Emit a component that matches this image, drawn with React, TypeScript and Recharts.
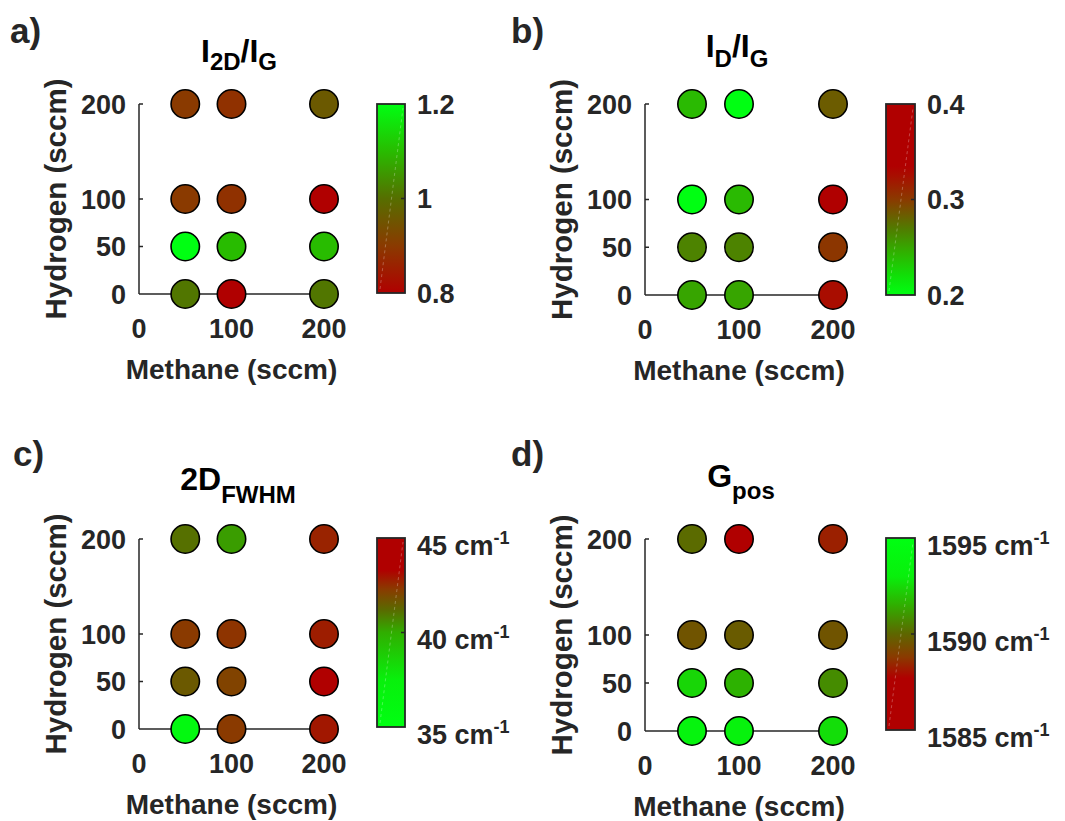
import React from "react";
import { ScatterChart, Scatter, XAxis, YAxis } from "recharts";

// grid of growth conditions
const methane = [50, 100, 200];
const hydrogen = [0, 50, 100, 200];
const methaneTicks = [0, 100, 200];
const hydrogenTicks = [0, 50, 100, 200];

// rows follow hydrogen (0, 50, 100, 200), columns follow methane (50, 100, 200)
const i2dIg = [
  [1.01, 0.8, 1.01],
  [1.2, 1.1, 1.1],
  [0.9, 0.885, 0.8],
  [0.9, 0.885, 0.96],
];
const idIg = [
  [0.25, 0.25, 0.326],
  [0.266, 0.266, 0.302],
  [0.2, 0.24, 0.36],
  [0.24, 0.2, 0.284],
];
const fwhm2d = [
  [36, 42.3, 42.9],
  [41.6, 42.1, 43.6],
  [42.3, 42.4, 42.8],
  [41.1, 40.3, 42.7],
];
const gPos = [
  [1593.6, 1593.2, 1592.6],
  [1592.4, 1591.6, 1590.8],
  [1589.5, 1589.7, 1589.5],
  [1590.1, 1587.5, 1588.3],
];

const i2dIgTicks = [0.8, 1, 1.2];
const idIgTicks = [0.2, 0.3, 0.4];
const fwhmTicks = [35, 40, 45];
const gPosTicks = [1585, 1590, 1595];

// colour maps: [value, colour]
const i2dIgMap: [number, string][] = [
  [0.8, "#b00000"], [0.9, "#8a3a00"], [1.0, "#566e00"], [1.1, "#28bc00"], [1.2, "#00ff12"],
];
const idIgMap: [number, string][] = [
  [0.2, "#00ff12"], [0.22, "#10e008"], [0.245, "#30b000"], [0.27, "#527a00"],
  [0.3, "#8a3a00"], [0.325, "#a80e00"], [0.335, "#b00000"], [0.4, "#b00000"],
];
const fwhmMap: [number, string][] = [
  [35, "#00ff12"], [37.5, "#08f00c"], [40, "#30ae00"], [41.2, "#5a6a00"],
  [42.3, "#8a3a00"], [43.3, "#b00000"], [45, "#b00000"],
];
const gPosMap: [number, string][] = [
  [1585, "#b00000"], [1587.7, "#b00000"], [1588.8, "#8a3a00"], [1590, "#5e6600"],
  [1591.5, "#30ae00"], [1593, "#08f00c"], [1595, "#00ff12"],
];

const FONT = "'Liberation Sans', Arial, sans-serif";
const INK = "#262626";

function hex(c: string) {
  return [1, 3, 5].map((i) => parseInt(c.slice(i, i + 2), 16));
}

function colorAt(map: [number, string][], v: number) {
  if (v <= map[0][0]) return map[0][1];
  for (let i = 1; i < map.length; i++) {
    if (v <= map[i][0]) {
      const t = (v - map[i - 1][0]) / (map[i][0] - map[i - 1][0]);
      const a = hex(map[i - 1][1]);
      const b = hex(map[i][1]);
      const m = a.map((x, k) => Math.round(x + (b[k] - x) * t));
      return `rgb(${m[0]},${m[1]},${m[2]})`;
    }
  }
  return map[map.length - 1][1];
}

function buildPoints(values: number[][], map: [number, string][]) {
  const pts: { x: number; y: number; v: number; color: string }[] = [];
  hydrogen.forEach((h, r) =>
    methane.forEach((m, c) => {
      const v = values[r][c];
      pts.push({ x: m, y: h, v, color: colorAt(map, v) });
    })
  );
  return pts;
}

const YTick = (p: any) => (
  <g>
    {p.payload.value !== 0 && (
      <line x1={p.x} x2={p.x + 4} y1={p.y} y2={p.y} stroke={INK} strokeWidth={1.5} />
    )}
    <text x={p.x - 13} y={p.y} dy="0.36em" textAnchor="end" fontFamily={FONT}
      fontWeight={700} fontSize={27} fill={INK}>
      {p.payload.value}
    </text>
  </g>
);

// x tick marks sit under the markers in the reference, so only labels are drawn
const XTick = (p: any) => (
  <text x={p.x} y={p.y + 34} dy="0.36em" textAnchor="middle" fontFamily={FONT}
    fontWeight={700} fontSize={27} fill={INK}>
    {p.payload.value}
  </text>
);

const Dot = (p: any) => (
  <circle cx={p.cx} cy={p.cy} r={14.2} fill={p.payload.color} stroke="#000" strokeWidth={1.6} />
);

type PanelProps = { left: number; top: number; plotW: number; plotH: number; values: number[][]; map: [number, string][] };

function Panel(props: PanelProps) {
  const W = 506;
  const H = 435;
  const data = buildPoints(props.values, props.map);
  return (
    <div style={{ position: "absolute", left: props.left, top: props.top }}>
      <ScatterChart
        width={W}
        height={H}
        margin={{ left: 99, top: 104, right: W - 139 - props.plotW, bottom: H - 104 - props.plotH - 40 }}
      >
        <XAxis
          type="number"
          dataKey="x"
          domain={[0, 200]}
          ticks={methaneTicks}
          height={40}
          tickSize={0}
          tickMargin={0}
          tick={XTick}
          stroke={INK}
          strokeWidth={1.5}
          label={(lp: any) => {
            const vb = lp.viewBox;
            return (
              <text x={vb.x + vb.width / 2} y={vb.y + 75} dy="0.36em" textAnchor="middle"
                fontFamily={FONT} fontWeight={700} fontSize={28} fill={INK}>
                Methane (sccm)
              </text>
            );
          }}
        />
        <YAxis
          type="number"
          dataKey="y"
          domain={[0, 200]}
          ticks={hydrogenTicks}
          width={40}
          tickSize={0}
          tickMargin={0}
          tick={YTick}
          stroke={INK}
          strokeWidth={1.5}
          label={(lp: any) => {
            const vb = lp.viewBox;
            const cx = vb.x + vb.width - 84;
            const cy = vb.y + vb.height / 2;
            return (
              <text x={cx} y={cy} dy="0.36em" textAnchor="middle" transform={`rotate(-90 ${cx} ${cy})`}
                fontFamily={FONT} fontWeight={700} fontSize={29.5} fill={INK}>
                Hydrogen (sccm)
              </text>
            );
          }}
        />
        <Scatter data={data} shape={Dot} isAnimationActive={false} />
      </ScatterChart>
    </div>
  );
}

type BarProps = {
  x: number; y: number; w: number; h: number; map: [number, string][];
  ticks: number[]; unit?: boolean; id: string;
};

function ColorBar(p: BarProps) {
  const lo = p.map[0][0];
  const hi = p.map[p.map.length - 1][0];
  const yOf = (v: number) => p.y + p.h - ((v - lo) / (hi - lo)) * p.h;
  return (
    <g>
      <defs>
        <linearGradient id={p.id} x1="0" y1="1" x2="0" y2="0">
          {p.map.map(([v, c], i) => (
            <stop key={i} offset={(v - lo) / (hi - lo)} stopColor={c} />
          ))}
        </linearGradient>
      </defs>
      <rect x={p.x} y={p.y} width={p.w} height={p.h} fill={`url(#${p.id})`} stroke={INK} strokeWidth={1.8} />
      <line x1={p.x + 3} y1={p.y + p.h - 4} x2={p.x + p.w - 2} y2={p.y + 4} stroke="#fff"
        strokeOpacity={0.35} strokeWidth={0.8} strokeDasharray="3 3" />
      {p.ticks.map((t) => (
        <g key={t}>
          {t !== lo && t !== hi && (
            <line x1={p.x + p.w} x2={p.x + p.w - 4} y1={yOf(t)} y2={yOf(t)} stroke={INK} strokeWidth={1.5} />
          )}
          {p.unit ? (
            <text x={p.x + p.w + 12} y={yOf(t) + 7} dy="0.36em" fontFamily={FONT} fontWeight={700}
              fontSize={27} fill={INK}>
              {t} cm
              <tspan fontSize={18} dy={-11}>-1</tspan>
            </text>
          ) : (
            <text x={p.x + p.w + 12} y={yOf(t)} dy="0.36em" fontFamily={FONT} fontWeight={700}
              fontSize={27} fill={INK}>
              {t}
            </text>
          )}
        </g>
      ))}
    </g>
  );
}

const txt = { fontFamily: FONT, fontWeight: 700 as const };

export default function App() {
  return (
    <div style={{ position: "absolute", left: 0, top: 0, width: 1065, height: 821, background: "#fff" }}>
      <Panel left={0} top={0} plotW={185} plotH={190} values={i2dIg} map={i2dIgMap} />
      <Panel left={506} top={0} plotW={188} plotH={191} values={idIg} map={idIgMap} />
      <Panel left={0} top={435} plotW={185} plotH={190} values={fwhm2d} map={fwhmMap} />
      <Panel left={506} top={435} plotW={188} plotH={192} values={gPos} map={gPosMap} />
      <svg width={1065} height={821} style={{ position: "absolute", left: 0, top: 0, pointerEvents: "none" }}>
        <text x={10} y={43} fontSize={35} fill={INK} {...txt}>a)</text>
        <text x={511} y={43} fontSize={35} fill={INK} {...txt}>b)</text>
        <text x={13} y={466} fontSize={35} fill={INK} {...txt}>c)</text>
        <text x={511} y={466} fontSize={35} fill={INK} {...txt}>d)</text>

        <text x={239} y={62} textAnchor="middle" fontSize={32} fill="#000" {...txt}>
          I<tspan fontSize={24} dy={8}>2D</tspan><tspan dy={-8}>/I</tspan><tspan fontSize={24} dy={8}>G</tspan>
        </text>
        <text x={737} y={57} textAnchor="middle" fontSize={32} fill="#000" {...txt}>
          I<tspan fontSize={24} dy={10}>D</tspan><tspan dy={-10}>/I</tspan><tspan fontSize={24} dy={10}>G</tspan>
        </text>
        <text x={238} y={490} textAnchor="middle" fontSize={32} fill="#000" {...txt}>
          2D<tspan fontSize={24} dy={13}>FWHM</tspan>
        </text>
        <text x={741} y={487} textAnchor="middle" fontSize={32} fill="#000" {...txt}>
          G<tspan fontSize={24} dy={12}>pos</tspan>
        </text>

        <ColorBar id="cbA" x={377} y={104} w={28} h={189} map={i2dIgMap} ticks={i2dIgTicks} />
        <ColorBar id="cbB" x={886} y={104} w={29} h={191} map={idIgMap} ticks={idIgTicks} />
        <ColorBar id="cbC" x={377} y={538} w={28} h={189} map={fwhmMap} ticks={fwhmTicks} unit />
        <ColorBar id="cbD" x={886} y={538} w={29} h={192} map={gPosMap} ticks={gPosTicks} unit />
      </svg>
    </div>
  );
}
